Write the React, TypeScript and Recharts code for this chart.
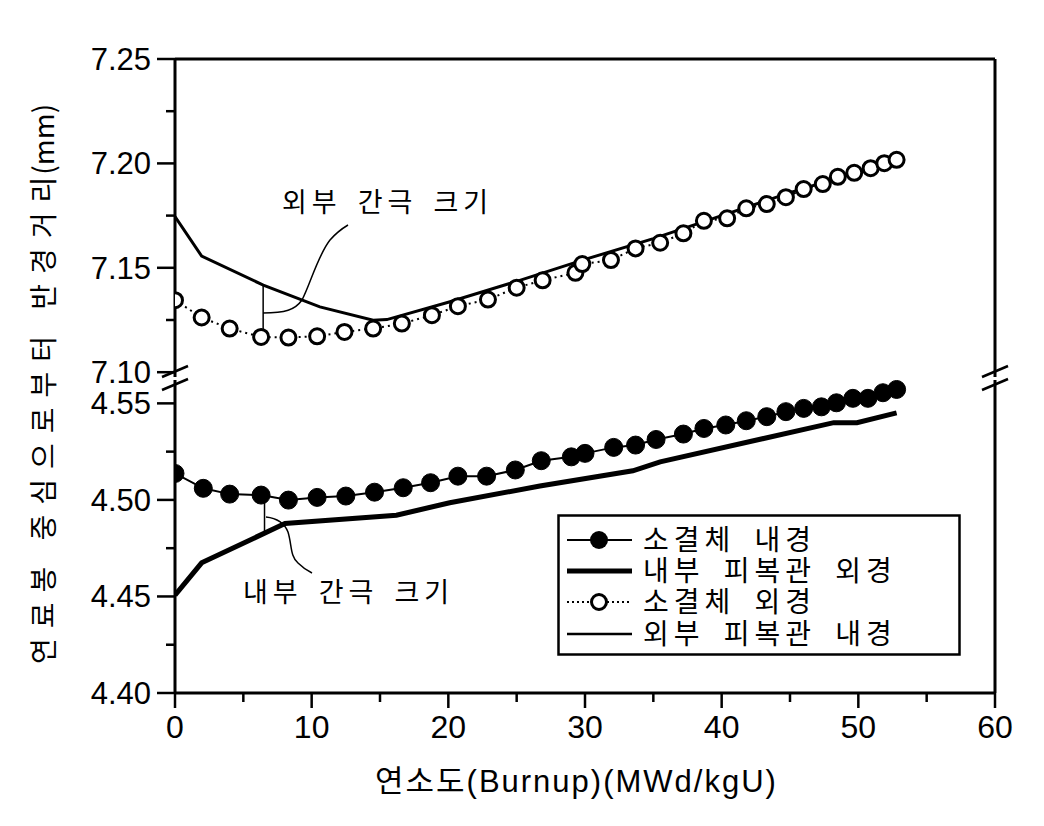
import React from "react";
import { LineChart, Line, XAxis, YAxis, ReferenceLine, Legend } from "recharts";

// page + plot geometry (broken y axis: two stacked panels sharing x)
const W = 1044;
const H = 826;
const PLOT_LEFT = 175;
const PLOT_RIGHT = 995;
const UPPER_TOP = 59;
const UPPER_BOTTOM = 377;
const LOWER_TOP = 380;
const LOWER_BOTTOM = 693;
const X_AXIS_H = 40;

const X_DOMAIN = [0, 60];
const X_TICKS = [0, 5, 10, 15, 20, 25, 30, 35, 40, 45, 50, 55, 60];
const UPPER_DOMAIN = [7.0977, 7.25];
const UPPER_TICKS = [7.1, 7.125, 7.15, 7.175, 7.2, 7.225, 7.25];
const LOWER_DOMAIN = [4.4, 4.5621];
const LOWER_TICKS = [4.4, 4.425, 4.45, 4.475, 4.5, 4.525, 4.55];

// 소결체 외경 (open circles, dotted)
const pelletOuterBurnup = [0, 1.95, 4.0, 6.3, 8.3, 10.4, 12.4, 14.5, 16.6, 18.8, 20.7, 22.9, 25.0, 26.9, 29.3, 29.8, 31.9, 33.7, 35.5, 37.2, 38.7, 40.4, 41.8, 43.3, 44.7, 46.0, 47.4, 48.5, 49.7, 50.9, 51.9, 52.8];
const pelletOuter = [7.1345, 7.1262, 7.1209, 7.1169, 7.1166, 7.1172, 7.1193, 7.1209, 7.1233, 7.1273, 7.1316, 7.1348, 7.1405, 7.144, 7.1476, 7.1518, 7.1537, 7.1593, 7.162, 7.1665, 7.1725, 7.1737, 7.1785, 7.1805, 7.1838, 7.1877, 7.1901, 7.1936, 7.1955, 7.1977, 7.2001, 7.2017];

// 외부 피복관 내경 (thin solid)
const outerCladBurnup = [0, 1.95, 6.46, 10.6, 14.5, 15.5, 20, 25, 30, 35, 40, 45, 50, 53.3];
const outerCladInner = [7.1745, 7.1556, 7.1417, 7.1313, 7.1249, 7.1252, 7.1335, 7.1435, 7.154, 7.164, 7.175, 7.186, 7.196, 7.2025];

// 소결체 내경 (filled circles)
const pelletInnerBurnup = [0, 2.07, 4.0, 6.3, 8.3, 10.4, 12.5, 14.6, 16.7, 18.7, 20.7, 22.8, 24.9, 26.8, 29.0, 30.0, 32.1, 33.7, 35.2, 37.2, 38.7, 40.3, 41.8, 43.3, 44.7, 46.0, 47.3, 48.4, 49.6, 50.7, 51.8, 52.8];
const pelletInner = [4.5137, 4.506, 4.503, 4.5025, 4.4999, 4.5013, 4.502, 4.504, 4.5063, 4.5089, 4.5123, 4.5123, 4.5155, 4.5203, 4.5223, 4.5241, 4.5272, 4.5284, 4.5313, 4.5341, 4.537, 4.5388, 4.541, 4.5431, 4.5457, 4.5474, 4.5482, 4.5503, 4.5526, 4.5526, 4.5555, 4.5572];

// 내부 피복관 외경 (thick solid)
const innerCladBurnup = [0, 1.95, 8.05, 16.2, 20.1, 26.7, 33.5, 35.5, 48.2, 49.9, 52.8];
const innerCladOuter = [4.4507, 4.4674, 4.4878, 4.4921, 4.4985, 4.5072, 4.5151, 4.5197, 4.54, 4.54, 4.5451];

const LEGEND_ITEMS = ["소결체 내경", "내부 피복관 외경", "소결체 외경", "외부 피복관 내경"];

const toRows = (xs: number[], ys: number[]) => xs.map((b, i) => ({ b, v: ys[i] }));

const KR = "'Noto Sans CJK KR', sans-serif";
const NUM = "'Liberation Sans', Arial, sans-serif";
const MIXED = "'Liberation Sans', 'Noto Sans CJK KR', sans-serif";

function YTick({ x, y, payload }: any) {
  const major = Math.round(payload.value * 1000) % 50 === 0;
  return (
    <g>
      <line x1={x - (major ? 18 : 9)} x2={x} y1={y} y2={y} stroke="#000" strokeWidth={2.5} />
      {major && (
        <text x={x - 24} y={y + 11} textAnchor="end" fontFamily={NUM} fontSize={31} fill="#000">
          {payload.value.toFixed(2)}
        </text>
      )}
    </g>
  );
}

function XTick({ x, y, payload }: any) {
  const major = payload.value % 10 === 0;
  return (
    <g>
      <line x1={x} x2={x} y1={y} y2={y + (major ? 15 : 9)} stroke="#000" strokeWidth={2.5} />
      {major && (
        <text x={x} y={y + 45} textAnchor="middle" fontFamily={NUM} fontSize={32} fill="#000">
          {payload.value}
        </text>
      )}
    </g>
  );
}

function LegendBox() {
  const rowY = [26, 57, 88, 120];
  return (
    <svg width={404} height={142}>
      <rect x={1.5} y={1.5} width={401} height={139} fill="#fff" stroke="#000" strokeWidth={2.5} />
      {LEGEND_ITEMS.map((label, i) => {
        const y = rowY[i];
        return (
          <g key={label}>
            {i === 0 && (
              <>
                <line x1={10} x2={75} y1={y} y2={y} stroke="#000" strokeWidth={2} />
                <circle cx={42} cy={y} r={9} fill="#000" />
              </>
            )}
            {i === 1 && <line x1={10} x2={75} y1={y} y2={y} stroke="#000" strokeWidth={5} />}
            {i === 2 && (
              <>
                <line x1={10} x2={75} y1={y} y2={y} stroke="#000" strokeWidth={2} strokeDasharray="2 3" />
                <circle cx={42} cy={y} r={7.5} fill="#fff" stroke="#000" strokeWidth={3} />
              </>
            )}
            {i === 3 && <line x1={10} x2={75} y1={y} y2={y} stroke="#000" strokeWidth={2.5} />}
            <text x={86} y={y + 10} fontFamily={KR} fontSize={28} letterSpacing={5} wordSpacing={8} fill="#000">
              {label}
            </text>
          </g>
        );
      })}
    </svg>
  );
}

export default function App() {
  return (
    <div style={{ position: "absolute", left: 0, top: 0, width: W, height: H, background: "#fff" }}>
      {/* lower panel (4.40 - 4.55) with the shared x axis */}
      <div style={{ position: "absolute", left: 0, top: 0 }}>
        <LineChart
          width={W}
          height={H}
          margin={{ top: LOWER_TOP, right: W - PLOT_RIGHT, bottom: H - LOWER_BOTTOM - X_AXIS_H, left: PLOT_LEFT - 75 }}
        >
          <XAxis
            dataKey="b"
            type="number"
            domain={X_DOMAIN}
            ticks={X_TICKS}
            allowDataOverflow
            height={X_AXIS_H}
            tickSize={0}
            tickMargin={0}
            tickLine={false}
            axisLine={{ stroke: "#000", strokeWidth: 3 }}
            tick={<XTick />}
            interval={0}
          />
          <YAxis
            type="number"
            domain={LOWER_DOMAIN}
            ticks={LOWER_TICKS}
            allowDataOverflow
            width={75}
            tickSize={0}
            tickMargin={0}
            tickLine={false}
            axisLine={{ stroke: "#000", strokeWidth: 3 }}
            tick={<YTick />}
            interval={0}
          />
          <ReferenceLine x={60} stroke="#000" strokeWidth={3} />
          <ReferenceLine
            segment={[{ x: 6.55, y: 4.5005 }, { x: 6.55, y: 4.4835 }]}
            stroke="#000"
            strokeWidth={1.5}
          />
          <Line
            data={toRows(innerCladBurnup, innerCladOuter)}
            dataKey="v"
            type="linear"
            stroke="#000"
            strokeWidth={5}
            dot={false}
            isAnimationActive={false}
          />
          <Line
            data={toRows(pelletInnerBurnup, pelletInner)}
            dataKey="v"
            type="linear"
            stroke="#000"
            strokeWidth={2}
            dot={{ r: 9, fill: "#000", stroke: "#000", strokeWidth: 1 }}
            isAnimationActive={false}
          />
          <Legend
            verticalAlign="middle"
            align="center"
            content={() => <LegendBox />}
            wrapperStyle={{ left: 557, top: 514, width: 404, height: 142 }}
          />
        </LineChart>
      </div>

      {/* upper panel (7.10 - 7.25) */}
      <div style={{ position: "absolute", left: 0, top: 0 }}>
        <LineChart
          width={W}
          height={UPPER_BOTTOM + 23}
          margin={{ top: UPPER_TOP, right: W - PLOT_RIGHT, bottom: 23, left: PLOT_LEFT - 75 }}
        >
          <XAxis dataKey="b" type="number" domain={X_DOMAIN} allowDataOverflow hide />
          <YAxis
            type="number"
            domain={UPPER_DOMAIN}
            ticks={UPPER_TICKS}
            allowDataOverflow
            width={75}
            tickSize={0}
            tickMargin={0}
            tickLine={false}
            axisLine={{ stroke: "#000", strokeWidth: 3 }}
            tick={<YTick />}
            interval={0}
          />
          <ReferenceLine y={7.25} stroke="#000" strokeWidth={3} />
          <ReferenceLine x={60} stroke="#000" strokeWidth={3} />
          <ReferenceLine
            segment={[{ x: 6.45, y: 7.1417 }, { x: 6.45, y: 7.1195 }]}
            stroke="#000"
            strokeWidth={1.5}
          />
          <Line
            data={toRows(outerCladBurnup, outerCladInner)}
            dataKey="v"
            type="linear"
            stroke="#000"
            strokeWidth={3}
            dot={false}
            isAnimationActive={false}
          />
          <Line
            data={toRows(pelletOuterBurnup, pelletOuter)}
            dataKey="v"
            type="linear"
            stroke="#000"
            strokeWidth={2}
            strokeDasharray="2 4"
            dot={{ r: 7.5, fill: "#fff", stroke: "#000", strokeWidth: 3, strokeDasharray: "none" }}
            isAnimationActive={false}
          />
        </LineChart>
      </div>

      {/* axis break marks, leader lines, annotations and axis titles */}
      <svg width={W} height={H} style={{ position: "absolute", left: 0, top: 0, pointerEvents: "none" }}>
        <g stroke="#000" strokeWidth={2.5}>
          <line x1={162} y1={377} x2={188} y2={366} />
          <line x1={162} y1={390} x2={188} y2={379} />
          <line x1={982} y1={377} x2={1008} y2={366} />
          <line x1={982} y1={390} x2={1008} y2={379} />
        </g>
        <g fill="none" stroke="#000" strokeWidth={1.5}>
          <path d="M263,313 C285,313 295,310 302,300 C310,285 318,255 330,240 C337,232 343,228 348,225" />
          <path d="M266,517 C275,518 284,522 288,532 C292,545 290,556 298,563 C303,568 308,571 312,573" />
        </g>
        <text x={282} y={212} fontFamily={KR} fontSize={27} letterSpacing={5} wordSpacing={5} fill="#000">
          외부 간극 크기
        </text>
        <text x={243} y={602} fontFamily={KR} fontSize={27} letterSpacing={5} wordSpacing={5} fill="#000">
          내부 간극 크기
        </text>
        <text x={375} y={792} fontFamily={MIXED} fontSize={31} letterSpacing={2} fill="#000">
          연소도(Burnup)(MWd/kgU)
        </text>
        <text
          x={0}
          y={0}
          transform="translate(54,384) rotate(-90)"
          textAnchor="middle"
          fontFamily={KR}
          fontSize={28}
          fill="#000"
        >
          <tspan letterSpacing={10}>연료봉 중심으로부터 반경거리</tspan>
          <tspan letterSpacing={0} dx={-8}>(mm)</tspan>
        </text>
      </svg>
    </div>
  );
}
